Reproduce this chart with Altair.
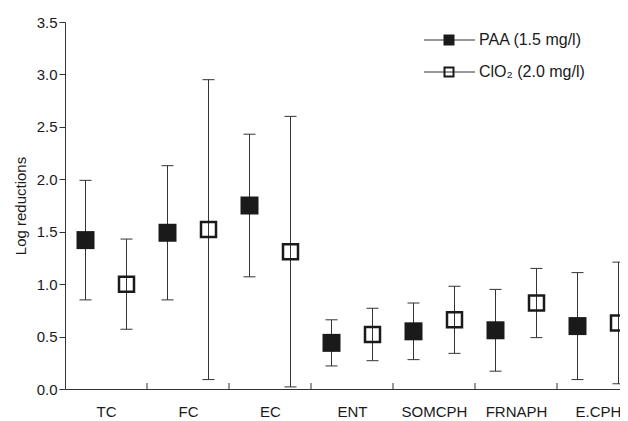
import json
import altair as alt
import pandas as pd

# ---- data ----
categories = ["TC", "FC", "EC", "ENT", "SOMCPH", "FRNAPH", "E.CPH"]
series = ["PAA (1.5 mg/l)", "ClO₂ (2.0 mg/l)"]

paa_mean = [1.42, 1.49, 1.75, 0.44, 0.55, 0.56, 0.60]
paa_low = [0.85, 0.85, 1.07, 0.22, 0.28, 0.17, 0.09]
paa_high = [1.99, 2.13, 2.43, 0.66, 0.82, 0.95, 1.11]

clo2_mean = [1.00, 1.52, 1.31, 0.52, 0.66, 0.82, 0.63]
clo2_low = [0.57, 0.09, 0.02, 0.27, 0.34, 0.49, 0.05]
clo2_high = [1.43, 2.95, 2.60, 0.77, 0.98, 1.15, 1.21]

y_ticks = [0.0, 0.5, 1.0, 1.5, 2.0, 2.5, 3.0, 3.5]

# ---- layout ----
W, H = 555, 367
BAND = 82
FONT = "Liberation Sans"
INK = "#1a1a1a"
LINE = "#333333"

rows = []
for i, c in enumerate(categories):
    rows.append(dict(cat=c, series=series[0], pos=i + 0.25,
                     mean=paa_mean[i], low=paa_low[i], high=paa_high[i]))
    rows.append(dict(cat=c, series=series[1], pos=i + 0.75,
                     mean=clo2_mean[i], low=clo2_low[i], high=clo2_high[i]))
df = pd.DataFrame(rows)
bounds = pd.DataFrame({"pos": list(range(1, len(categories)))})

xscale = alt.Scale(domain=[0, W / BAND], nice=False, zero=False)
yscale = alt.Scale(domain=[0, 3.5], nice=False)

label_expr = "%s[floor(datum.value)]" % json.dumps(categories)

x_axis = alt.Axis(values=[i + 0.5 for i in range(len(categories))], labelExpr=label_expr,
                  ticks=False, grid=False, title=None, labelFontSize=15,
                  labelPadding=15, domainColor=LINE, labelColor=INK, labelFont=FONT)
y_axis = alt.Axis(values=y_ticks, format=".1f", grid=False, title="Log reductions",
                  tickSize=6, labelPadding=2, labelFontSize=15, titleFontSize=15,
                  titleFontWeight="normal", titlePadding=8, domainColor=LINE,
                  tickColor=LINE, labelColor=INK, titleColor=INK, labelFont=FONT,
                  titleFont=FONT)

X = alt.X("pos:Q", scale=xscale, axis=x_axis)

base = alt.Chart(df)

err = base.mark_rule(color=LINE, strokeWidth=1).encode(
    x=X,
    y=alt.Y("low:Q", scale=yscale, axis=y_axis),
    y2="high:Q",
)
cap_lo = base.mark_tick(orient="horizontal", size=12, thickness=1, color=LINE, opacity=1).encode(
    x=X,
    y=alt.Y("low:Q", scale=yscale, axis=y_axis),
)
cap_hi = base.mark_tick(orient="horizontal", size=12, thickness=1, color=LINE, opacity=1).encode(
    x=X,
    y=alt.Y("high:Q", scale=yscale, axis=y_axis),
)
filled = base.transform_filter(alt.datum.series == series[0]).mark_square(
    size=324, filled=True, color=INK, opacity=1).encode(
    x=X,
    y=alt.Y("mean:Q", scale=yscale, axis=y_axis),
)
hollow = base.transform_filter(alt.datum.series == series[1]).mark_square(
    size=225, filled=False, stroke=INK, strokeWidth=2.5, opacity=1).encode(
    x=X,
    y=alt.Y("mean:Q", scale=yscale, axis=y_axis),
)
inner_ticks = alt.Chart(bounds).mark_rule(color=LINE, strokeWidth=1).encode(
    x=X,
    y=alt.value(H - 6),
    y2=alt.value(H),
)

# ---- manual legend ----
one = alt.Data(values=[{"k": 1}])
leg = []
for j, (name, y) in enumerate(zip(series, [18, 50])):
    leg.append(alt.Chart(one).mark_rule(color=LINE, strokeWidth=1).encode(
        x=alt.value(359), x2=alt.value(410), y=alt.value(y)))
    if j == 0:
        leg.append(alt.Chart(one).mark_square(size=121, filled=True, color=INK, opacity=1).encode(
            x=alt.value(384), y=alt.value(y)))
    else:
        leg.append(alt.Chart(one).mark_square(size=81, filled=False, stroke=INK,
                                              strokeWidth=2, opacity=1).encode(
            x=alt.value(384), y=alt.value(y)))
    leg.append(alt.Chart(one).mark_text(align="left", baseline="middle", fontSize=16,
                                        font=FONT, color=INK).encode(
        x=alt.value(414), y=alt.value(y), text=alt.value(name)))

chart = alt.layer(err, cap_lo, cap_hi, filled, hollow, inner_ticks, *leg).properties(
    width=W, height=H,
    padding={"left": 57, "top": 14, "right": 0, "bottom": 32},
    autosize=alt.AutoSizeParams(type="none"),
).configure(font=FONT).configure_view(stroke=None)

chart.save("out.html", embed_options={"renderer": "svg", "actions": False})
